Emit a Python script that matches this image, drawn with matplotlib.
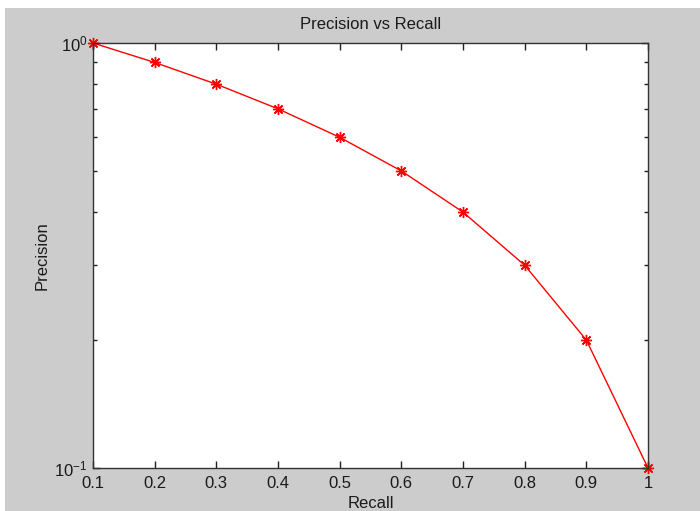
import matplotlib
matplotlib.use("Agg")
import matplotlib.pyplot as plt
from matplotlib.patches import Rectangle
from matplotlib.ticker import FixedLocator, FixedFormatter, NullFormatter

recall = [0.1, 0.2, 0.3, 0.4, 0.5, 0.6, 0.7, 0.8, 0.9, 1.0]
precision = [1.0, 0.9, 0.8, 0.7, 0.6, 0.5, 0.4, 0.3, 0.2, 0.1]
x_ticks = [0.1, 0.2, 0.3, 0.4, 0.5, 0.6, 0.7, 0.8, 0.9, 1.0]
x_tick_labels = ["0.1", "0.2", "0.3", "0.4", "0.5", "0.6", "0.7", "0.8", "0.9", "1"]
y_major = [0.1, 1.0]
y_major_labels = [r"$10^{-1}$", r"$10^{0}$"]
y_minor = [0.2, 0.3, 0.4, 0.5, 0.6, 0.7, 0.8, 0.9]


def main():
    plt.rcParams["font.family"] = ["Liberation Sans", "DejaVu Sans"]
    plt.rcParams["mathtext.default"] = "regular"

    fig = plt.figure(figsize=(7.0, 5.11), dpi=100, facecolor="white")
    # gray figure area (white strip top and left like the screenshot)
    fig.patches.append(Rectangle((5 / 700, 0), 1, 1 - 8 / 511, transform=fig.transFigure,
                                 facecolor="#cccccc", edgecolor="none", zorder=-10))

    ax = fig.add_axes([93 / 700, 1 - 468 / 511, (648 - 93) / 700, (468 - 43) / 511])
    ax.set_facecolor("white")

    ax.plot(recall, precision, color="red", linewidth=1.0, marker=(8, 2, 0),
            markersize=8, markeredgewidth=1.0, clip_on=False)

    ax.set_yscale("log")
    ax.set_xlim(0.1, 1.0)
    ax.set_ylim(0.1, 1.0)

    ax.xaxis.set_major_locator(FixedLocator(x_ticks))
    ax.xaxis.set_major_formatter(FixedFormatter(x_tick_labels))
    ax.yaxis.set_major_locator(FixedLocator(y_major))
    ax.yaxis.set_major_formatter(FixedFormatter(y_major_labels))
    ax.yaxis.set_minor_locator(FixedLocator(y_minor))
    ax.yaxis.set_minor_formatter(NullFormatter())

    ax.tick_params(which="both", direction="in", top=True, right=True,
                   color="#222222", labelcolor="#1a1a1a", labelsize=12)
    ax.tick_params(which="major", length=5, width=1.0)
    ax.tick_params(which="minor", length=3, width=1.0)
    ax.tick_params(axis="x", which="major", pad=6)
    ax.tick_params(axis="y", which="major", pad=4)
    for s in ax.spines.values():
        s.set_color("#333333")
        s.set_linewidth(1.0)

    ax.set_title("Precision vs Recall", fontsize=12, pad=10, color="#1a1a1a")
    ax.set_xlabel("Recall", fontsize=12, labelpad=3, color="#1a1a1a")
    ax.set_ylabel("Precision", fontsize=12, labelpad=3, color="#1a1a1a")

    fig.savefig("out.png", dpi=100, facecolor=fig.get_facecolor())


if __name__ == "__main__":
    main()
